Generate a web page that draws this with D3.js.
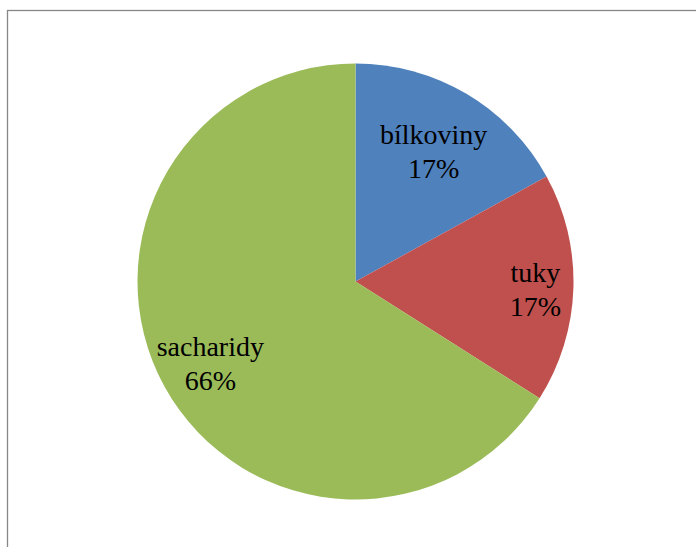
<!DOCTYPE html>
<html>
<head>
<meta charset="utf-8">
<script src="https://cdn.jsdelivr.net/npm/d3@7"></script>
<style>
  html, body { margin: 0; padding: 0; background: #fff; }
  svg { display: block; }
</style>
</head>
<body>
<svg id="chart" width="696" height="547"></svg>
<script>
// Nutrient shares
const categories = ["bílkoviny", "tuky", "sacharidy"];
const values = [17, 17, 66];
const colors = ["#4F81BD", "#C0504D", "#9BBB59"];

const width = 696, height = 547;
const cx = 355.5, cy = 281.5, radius = 218;
const fontSize = 28, lineGap = 34, pad = 9;

const svg = d3.select("#chart");

// chart area frame
svg.append("rect")
  .attr("x", 7.5).attr("y", 10.5)
  .attr("width", 720).attr("height", 600)
  .attr("fill", "#fff")
  .attr("stroke", "#878787")
  .attr("stroke-width", 1.3);

const data = categories.map((c, i) => ({ name: c, value: values[i], color: colors[i] }));
const total = d3.sum(values);

const pie = d3.pie().value(d => d.value).sort(null);
const arc = d3.arc().innerRadius(0).outerRadius(radius);
const arcs = pie(data);

const g = svg.append("g").attr("transform", `translate(${cx},${cy})`);

g.selectAll("path.slice")
  .data(arcs)
  .join("path")
  .attr("class", "slice")
  .attr("d", arc)
  .attr("fill", d => d.data.color);

// Two-line labels on the slice bisector: narrow slices push the label out
// as far as its box fits, wide slices use a fixed fraction of the radius
const measure = svg.append("text")
  .attr("font-family", "'Liberation Serif', 'Times New Roman', serif")
  .attr("font-size", fontSize)
  .attr("visibility", "hidden");
function textWidth(s) { measure.text(s); return measure.node().getComputedTextLength(); }

arcs.forEach(a => {
  const pct = Math.round(a.data.value / total * 100) + "%";
  const halfW = Math.max(textWidth(a.data.name), textWidth(pct)) / 2;
  const halfH = 30;
  const mid = (a.startAngle + a.endAngle) / 2;
  const ux = Math.sin(mid), uy = -Math.cos(mid);
  let d = 0;
  if (a.endAngle - a.startAngle > Math.PI) {
    d = radius * 0.76;
  } else {
    const limit = radius - pad;
    for (let t = 0; t <= radius; t += 0.5) {
      const x = t * ux, y = t * uy;
      const corners = [[x - halfW, y - halfH], [x + halfW, y - halfH], [x - halfW, y + halfH], [x + halfW, y + halfH]];
      if (corners.every(([px, py]) => Math.hypot(px, py) <= limit)) d = t; else break;
    }
  }
  const lx = d * ux, ly = d * uy;
  const t = g.append("text")
    .attr("x", lx)
    .attr("y", ly - lineGap / 2 + 12)
    .attr("text-anchor", "middle")
    .attr("font-family", "'Liberation Serif', 'Times New Roman', serif")
    .attr("font-size", fontSize)
    .attr("fill", "#000");
  t.append("tspan").attr("x", lx).text(a.data.name);
  t.append("tspan").attr("x", lx).attr("dy", lineGap).text(pct);
});
measure.remove();
</script>
</body>
</html>
